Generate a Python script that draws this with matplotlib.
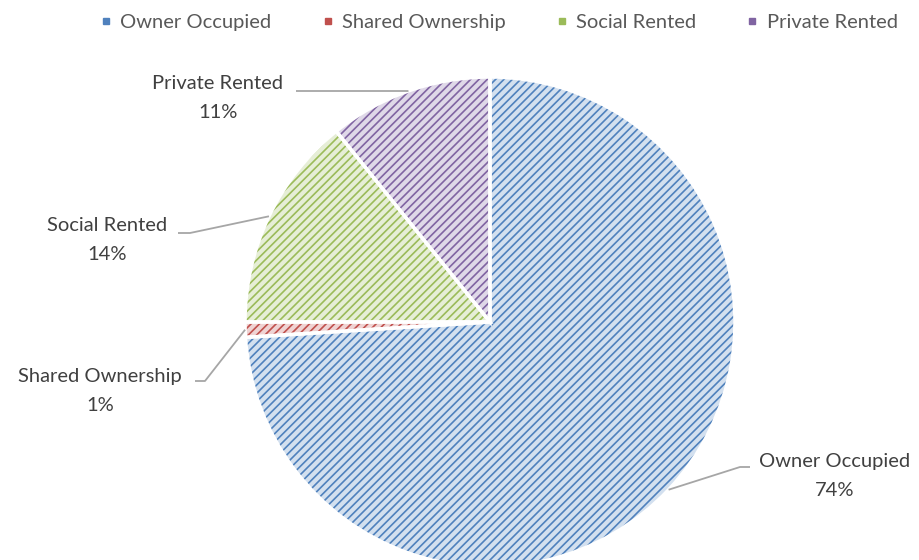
import matplotlib
matplotlib.use('Agg')
import matplotlib.pyplot as plt
import numpy as np

categories = ['Owner Occupied', 'Shared Ownership', 'Social Rented', 'Private Rented']
shares = [74.0, 1.0, 14.2, 10.8]
pct_labels = ['74%', '1%', '14%', '11%']
dark = ['#4F81BD', '#C0504D', '#9BBB59', '#8064A2']

plt.rcParams['font.family'] = ['Lato', 'DejaVu Sans']
plt.rcParams['hatch.linewidth'] = 1.2

W, H = 920, 560
cx, cy, R = 490, 322, 245

def px(x, y):
    # pixel position -> data coords (pie radius = 1)
    return (x - cx) / R, (cy - y) / R

def light(c, f=0.75):
    rgb = np.array(matplotlib.colors.to_rgb(c))
    return tuple(rgb + (1 - rgb) * f)

fig = plt.figure(figsize=(W / 100, H / 100), dpi=100)
ax = fig.add_axes([0, 0, 1, 1])

# hatched fill
wedges, _ = ax.pie(shares, startangle=90, counterclock=False, radius=1,
                   colors=[light(c) for c in dark],
                   wedgeprops=dict(linewidth=0, hatch='////'))
for w, c in zip(wedges, dark):
    w.set_edgecolor(c)
    w.set_linewidth(0)
# white separators on top
ax.pie(shares, startangle=90, counterclock=False, radius=1,
       colors=['none'] * 4,
       wedgeprops=dict(linewidth=2.5, edgecolor='white'))

ax.set_xlim(px(0, 0)[0], px(W, 0)[0])
ax.set_ylim(px(0, H)[1], px(0, 0)[1])
ax.set_aspect('equal')
ax.axis('off')

# label text centres and elbow points (pixels)
text_pos = [(835, 476), (100, 391), (107, 240), (218, 98)]
elbows = [[(740, 467), (750, 467)],
          [(205, 381), (195, 381)],
          [(190, 233), (178, 233)],
          [(408, 91), (296, 91)]]

for w, name, pct, tp, el in zip(wedges, categories, pct_labels, text_pos, elbows):
    mid = np.deg2rad((w.theta1 + w.theta2) / 2)
    x0, y0 = np.cos(mid), np.sin(mid)
    pts = [(x0, y0)] + [px(*p) for p in el]
    xs, ys = zip(*pts)
    ax.plot(xs, ys, color='#A6A6A6', lw=1.3, solid_capstyle='butt')
    tx, ty = px(*tp)
    ax.text(tx, ty, name + '\n' + pct, ha='center', va='center',
            fontsize=14.5, color='#404040', linespacing=1.8)

handles = [plt.Line2D([], [], marker='s', ls='none', markersize=5,
                      markerfacecolor=c, markeredgecolor=c) for c in dark]
fig.legend(handles, categories, loc='upper center', ncol=4,
           bbox_to_anchor=(0.541, 1.0), frameon=False, fontsize=14.5,
           labelcolor='#595959', handlelength=0.8, handletextpad=0.3,
           columnspacing=2.4, borderaxespad=0.3)

fig.savefig('out.png', dpi=100)
